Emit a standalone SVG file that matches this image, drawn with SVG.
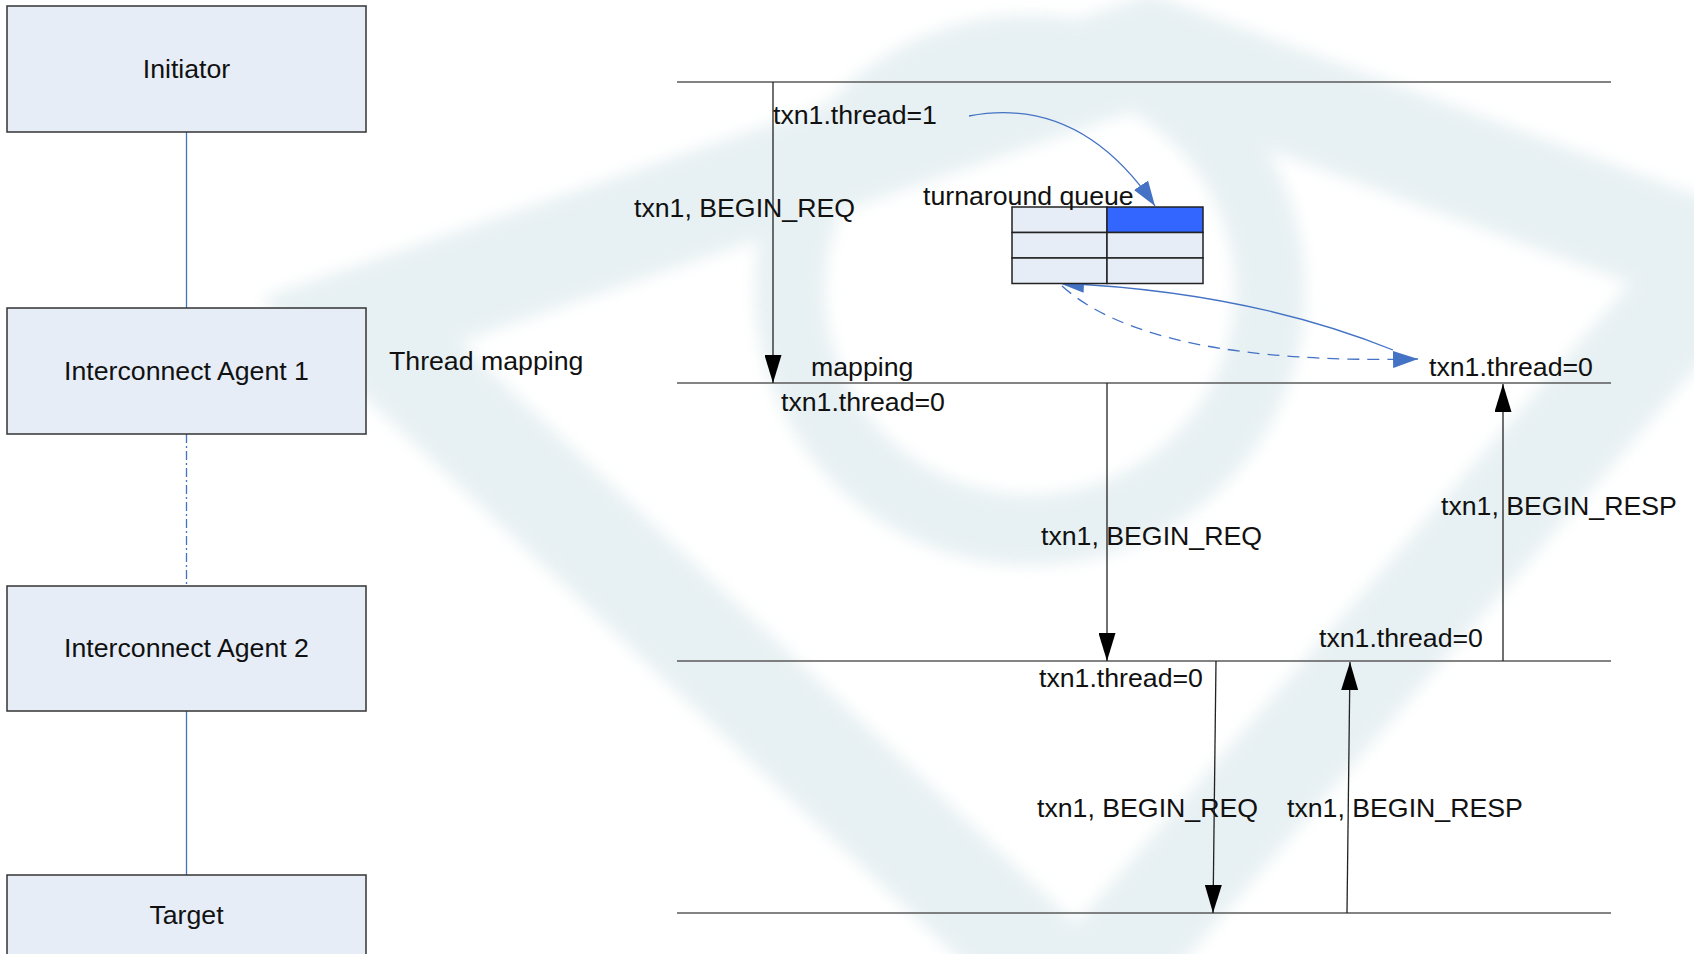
<svg xmlns="http://www.w3.org/2000/svg" width="1694" height="954" viewBox="0 0 1694 954">
<style>
text{font-family:"Liberation Sans",Arial,sans-serif;font-size:26.7px;fill:#111}
.box{fill:#e6edf7;stroke:#333;stroke-width:1.5}
.mid{text-anchor:middle}
.cn{stroke:#4472c4;stroke-width:1.3;fill:none}
.hl{stroke:#5a5a5a;stroke-width:1.5}
.vl{stroke:#222;stroke-width:1.3;fill:none}
.cell{fill:#e6edf7;stroke:#222;stroke-width:1.5}
.wm{fill:none;stroke:#e2edf0}
</style>
<defs>
<marker id="ab" markerUnits="userSpaceOnUse" markerWidth="28" markerHeight="17" refX="28" refY="8.5" orient="auto"><path d="M0,0 L28,8.5 L0,17 z" fill="#000"/></marker>
<marker id="au" markerUnits="userSpaceOnUse" markerWidth="25" markerHeight="17" refX="25" refY="8.5" orient="auto"><path d="M0,0 L25,8.5 L0,17 z" fill="#4472c4"/></marker>
<filter id="soft" x="-20%" y="-20%" width="140%" height="140%"><feGaussianBlur stdDeviation="8"/></filter>
</defs>
<rect width="1694" height="954" fill="#fff"/>
<g id="watermark" filter="url(#soft)" opacity="0.8">
<polygon class="wm" points="360,320 1150,50 1720,260 1080,1000" stroke-width="105"/>
<circle class="wm" cx="1030" cy="290" r="240" stroke-width="70"/>
</g>
<g id="connectors">
<line class="cn" x1="186.5" y1="132" x2="186.5" y2="308"/>
<line class="cn" x1="186.5" y1="434" x2="186.5" y2="586" stroke-dasharray="9,3,2,3"/>
<line class="cn" x1="186.5" y1="711" x2="186.5" y2="875"/>
<line class="hl" x1="677" y1="82" x2="1611" y2="82"/>
<line class="hl" x1="677" y1="383" x2="1611" y2="383"/>
<line class="hl" x1="677" y1="661" x2="1611" y2="661"/>
<line class="hl" x1="677" y1="913" x2="1611" y2="913"/>
<line class="vl" x1="773" y1="82" x2="773" y2="383" marker-end="url(#ab)"/>
<line class="vl" x1="1107" y1="383" x2="1107" y2="661" marker-end="url(#ab)"/>
<line class="vl" x1="1503" y1="661" x2="1503" y2="384" marker-end="url(#ab)"/>
<line class="vl" x1="1216" y1="661" x2="1213" y2="913" marker-end="url(#ab)"/>
<line class="vl" x1="1347" y1="913" x2="1350" y2="662" marker-end="url(#ab)"/>
<path class="cn" d="M969,116 Q1080,95 1155,206" marker-end="url(#au)"/>
<path class="cn" d="M1393,350 Q1250,292 1059,283" marker-end="url(#au)"/>
<path class="cn" d="M1062,286 Q1150,365 1418,359" stroke-width="2" stroke-dasharray="12,8" marker-end="url(#au)"/>
</g>
<g id="initiator"><rect class="box" x="7" y="6" width="359" height="126"/><text class="mid" x="186.5" y="78">Initiator</text></g>
<g id="agent1"><rect class="box" x="7" y="308" width="359" height="126"/><text class="mid" x="186.5" y="380">Interconnect Agent 1</text></g>
<g id="agent2"><rect class="box" x="7" y="586" width="359" height="125"/><text class="mid" x="186.5" y="657">Interconnect Agent 2</text></g>
<g id="target"><rect class="box" x="7" y="875" width="359" height="125"/><text class="mid" x="186.5" y="924">Target</text></g>
<g id="queue">
<rect class="cell" x="1012" y="207" width="95" height="25.5"/>
<rect class="cell" x="1107" y="207" width="96" height="25.5" style="fill:#3366ff"/>
<rect class="cell" x="1012" y="232.5" width="95" height="25.5"/>
<rect class="cell" x="1107" y="232.5" width="96" height="25.5"/>
<rect class="cell" x="1012" y="258" width="95" height="25.5"/>
<rect class="cell" x="1107" y="258" width="96" height="25.5"/>
<text x="923" y="205">turnaround queue</text>
</g>
<g id="labels">
<text x="389" y="370">Thread mapping</text>
<text x="773" y="124">txn1.thread=1</text>
<text x="634" y="217">txn1, BEGIN_REQ</text>
<text x="811" y="376">mapping</text>
<text x="781" y="411">txn1.thread=0</text>
<text x="1429" y="376">txn1.thread=0</text>
<text x="1441" y="515">txn1, BEGIN_RESP</text>
<text x="1041" y="545">txn1, BEGIN_REQ</text>
<text x="1319" y="647">txn1.thread=0</text>
<text x="1039" y="687">txn1.thread=0</text>
<text x="1037" y="817">txn1, BEGIN_REQ</text>
<text x="1287" y="817">txn1, BEGIN_RESP</text>
</g>
</svg>
